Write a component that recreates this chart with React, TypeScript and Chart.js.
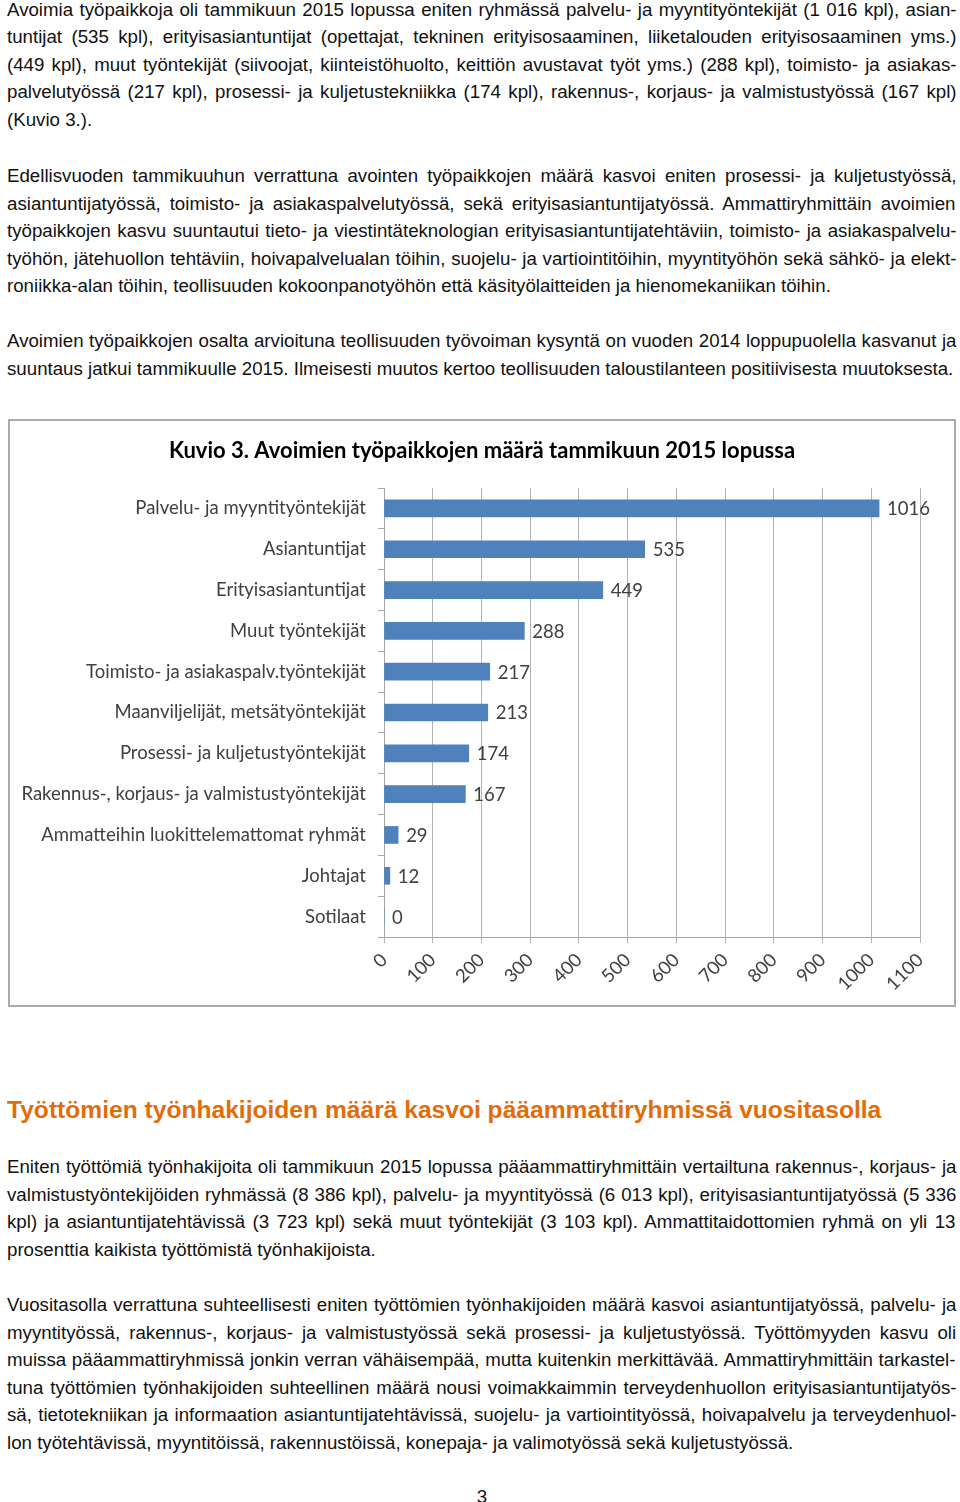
import React, { useEffect, useRef } from "react";
import { Chart, registerables } from "chart.js";

Chart.register(...registerables);

const categories = [
  "Palvelu- ja myyntityöntekijät",
  "Asiantuntijat",
  "Erityisasiantuntijat",
  "Muut työntekijät",
  "Toimisto- ja asiakaspalv.työntekijät",
  "Maanviljelijät, metsätyöntekijät",
  "Prosessi- ja kuljetustyöntekijät",
  "Rakennus-, korjaus- ja valmistustyöntekijät",
  "Ammatteihin luokittelemattomat ryhmät",
  "Johtajat",
  "Sotilaat",
];
const values = [1016, 535, 449, 288, 217, 213, 174, 167, 29, 12, 0];
const chartTitle = "Kuvio 3. Avoimien työpaikkojen määrä tammikuun 2015 lopussa";

const para1 = [
  "Avoimia työpaikkoja oli tammikuun 2015 lopussa eniten ryhmässä palvelu- ja myyntityöntekijät (1 016 kpl), asian-",
  "tuntijat (535 kpl), erityisasiantuntijat (opettajat, tekninen erityisosaaminen, liiketalouden erityisosaaminen yms.)",
  "(449 kpl), muut työntekijät (siivoojat, kiinteistöhuolto, keittiön avustavat työt yms.) (288 kpl), toimisto- ja asiakas-",
  "palvelutyössä (217 kpl), prosessi- ja kuljetustekniikka (174 kpl), rakennus-, korjaus- ja valmistustyössä (167 kpl)",
  "(Kuvio 3.).",
];
const para2 = [
  "Edellisvuoden tammikuuhun verrattuna avointen työpaikkojen määrä kasvoi eniten prosessi- ja kuljetustyössä,",
  "asiantuntijatyössä, toimisto- ja asiakaspalvelutyössä, sekä erityisasiantuntijatyössä. Ammattiryhmittäin avoimien",
  "työpaikkojen kasvu suuntautui tieto- ja viestintäteknologian erityisasiantuntijatehtäviin, toimisto- ja asiakaspalvelu-",
  "työhön, jätehuollon tehtäviin, hoivapalvelualan töihin, suojelu- ja vartiointitöihin, myyntityöhön sekä sähkö- ja elekt-",
  "roniikka-alan töihin, teollisuuden kokoonpanotyöhön että käsityölaitteiden ja hienomekaniikan töihin.",
];
const para3 = [
  "Avoimien työpaikkojen osalta arvioituna teollisuuden työvoiman kysyntä on vuoden 2014 loppupuolella kasvanut ja",
  "suuntaus jatkui tammikuulle 2015. Ilmeisesti muutos kertoo teollisuuden taloustilanteen positiivisesta muutoksesta.",
];
const heading = "Työttömien työnhakijoiden määrä kasvoi pääammattiryhmissä vuositasolla";
const para4 = [
  "Eniten työttömiä työnhakijoita oli tammikuun 2015 lopussa pääammattiryhmittäin vertailtuna rakennus-, korjaus- ja",
  "valmistustyöntekijöiden ryhmässä (8 386 kpl), palvelu- ja myyntityössä (6 013 kpl), erityisasiantuntijatyössä (5 336",
  "kpl) ja asiantuntijatehtävissä (3 723 kpl) sekä muut työntekijät (3 103 kpl). Ammattitaidottomien ryhmä on yli 13",
  "prosenttia kaikista työttömistä työnhakijoista.",
];
const para5 = [
  "Vuositasolla verrattuna suhteellisesti eniten työttömien työnhakijoiden määrä kasvoi asiantuntijatyössä, palvelu- ja",
  "myyntityössä, rakennus-, korjaus- ja valmistustyössä sekä prosessi- ja kuljetustyössä. Työttömyyden kasvu oli",
  "muissa pääammattiryhmissä jonkin verran vähäisempää, mutta kuitenkin merkittävää. Ammattiryhmittäin tarkastel-",
  "tuna työttömien työnhakijoiden suhteellinen määrä nousi voimakkaimmin terveydenhuollon erityisasiantuntijatyös-",
  "sä, tietotekniikan ja informaation asiantuntijatehtävissä, suojelu- ja vartiointityössä, hoivapalvelu ja terveydenhuol-",
  "lon työtehtävissä, myyntitöissä, rakennustöissä, konepaja- ja valimotyössä sekä kuljetustyössä.",
];
const pageNumber = "3";

const LABEL_FONT = "Lato, 'Open Sans', sans-serif";
const LABEL_SIZE = 18.5;
const BODY_FONT = "'Liberation Sans', Arial, sans-serif";
const BODY_SIZE = 18.7;
const TEXT_WIDTH = 950;

const dataLabels = {
  id: "dataLabels",
  afterDatasetsDraw(chart: any) {
    const ctx = chart.ctx;
    const meta = chart.getDatasetMeta(0);
    const ds = chart.data.datasets[0];
    ctx.save();
    ctx.font = `${LABEL_SIZE}px ${LABEL_FONT}`;
    ctx.fillStyle = "#404040";
    ctx.textAlign = "left";
    ctx.textBaseline = "middle";
    meta.data.forEach((bar: any, i: number) => {
      ctx.fillText(String(ds.data[i]), bar.x + 8, bar.y + 1);
    });
    ctx.restore();
  },
};

const centeredTitle = {
  id: "centeredTitle",
  afterDraw(chart: any) {
    const ctx = chart.ctx;
    ctx.save();
    ctx.font = `bold 22px ${LABEL_FONT}`;
    ctx.fillStyle = "#000000";
    ctx.textAlign = "center";
    ctx.textBaseline = "middle";
    ctx.fillText(chartTitle, chart.width / 2, 30);
    ctx.restore();
  },
};

function BarChart() {
  const ref = useRef<HTMLCanvasElement | null>(null);
  useEffect(() => {
    if (!ref.current) return;
    const chart = new Chart(ref.current, {
      type: "bar",
      data: {
        labels: categories,
        datasets: [
          {
            data: values,
            backgroundColor: "#4F81BD",
            barThickness: 17,
          },
        ],
      },
      options: {
        indexAxis: "y",
        animation: false,
        responsive: false,
        layout: { padding: { left: 0, right: 34, top: 67, bottom: 0 } },
        plugins: {
          legend: { display: false },
          tooltip: { enabled: false },
          title: { display: false },
        },
        scales: {
          x: {
            min: 0,
            max: 1100,
            ticks: {
              stepSize: 100,
              minRotation: 45,
              maxRotation: 45,
              color: "#404040",
              font: { family: LABEL_FONT, size: LABEL_SIZE },
              padding: 6,
              callback: (v: any) => String(v),
            },
            grid: { color: "#B4B4B4", tickLength: 6, lineWidth: 1 },
            border: { color: "#A6A6A6" },
            afterFit: (scale: any) => {
              scale.height = 68;
            },
          },
          y: {
            ticks: {
              color: "#404040",
              font: { family: LABEL_FONT, size: LABEL_SIZE },
              padding: 12,
            },
            grid: { drawOnChartArea: false, tickLength: 6, color: "#A6A6A6" },
            border: { color: "#A6A6A6" },
            afterFit: (scale: any) => {
              scale.width = 374;
            },
          },
        },
      },
      plugins: [dataLabels, centeredTitle],
    });
    return () => chart.destroy();
  }, []);
  return <canvas ref={ref} width={944} height={584} style={{ display: "block" }} />;
}

let measureCtx: CanvasRenderingContext2D | null = null;
function measure(text: string): number {
  if (!measureCtx) {
    measureCtx = document.createElement("canvas").getContext("2d");
  }
  if (!measureCtx) return TEXT_WIDTH;
  measureCtx.font = `${BODY_SIZE}px ${BODY_FONT}`;
  return measureCtx.measureText(text).width;
}

const textStyle: React.CSSProperties = {
  position: "absolute",
  left: 7,
  width: TEXT_WIDTH,
  fontFamily: BODY_FONT,
  fontSize: BODY_SIZE,
  lineHeight: "27.6px",
  color: "#111111",
};

function Para({ lines, top }: { lines: string[]; top: number }) {
  return (
    <div style={{ ...textStyle, top }}>
      {lines.map((l, i) => {
        const last = i === lines.length - 1;
        let ws = 0;
        if (!last) {
          const spaces = (l.match(/ /g) || []).length;
          if (spaces > 0) ws = (TEXT_WIDTH - 0.5 - measure(l)) / spaces;
        }
        return (
          <div key={i} style={{ whiteSpace: "nowrap", wordSpacing: ws ? `${ws}px` : undefined }}>
            {l}
          </div>
        );
      })}
    </div>
  );
}

export default function App() {
  return (
    <div style={{ position: "absolute", left: 0, top: 0, width: 960, height: 1502, background: "#fff", overflow: "hidden" }}>
      <Para lines={para1} top={-4.5} />
      <Para lines={para2} top={162} />
      <Para lines={para3} top={327} />
      <div
        style={{
          position: "absolute",
          left: 8,
          top: 419,
          width: 948,
          height: 588,
          border: "2px solid #ABABAB",
          boxSizing: "border-box",
          background: "#fff",
        }}
      >
        <BarChart />
      </div>
      <div
        style={{
          position: "absolute",
          left: 7,
          top: 1095,
          fontFamily: BODY_FONT,
          fontWeight: "bold",
          fontSize: 24.6,
          lineHeight: "30px",
          color: "#E36C0A",
          whiteSpace: "nowrap",
        }}
      >
        {heading}
      </div>
      <Para lines={para4} top={1153} />
      <Para lines={para5} top={1291} />
      <div
        style={{
          ...textStyle,
          left: 0,
          width: 964,
          top: 1483,
          textAlign: "center",
        }}
      >
        {pageNumber}
      </div>
    </div>
  );
}
